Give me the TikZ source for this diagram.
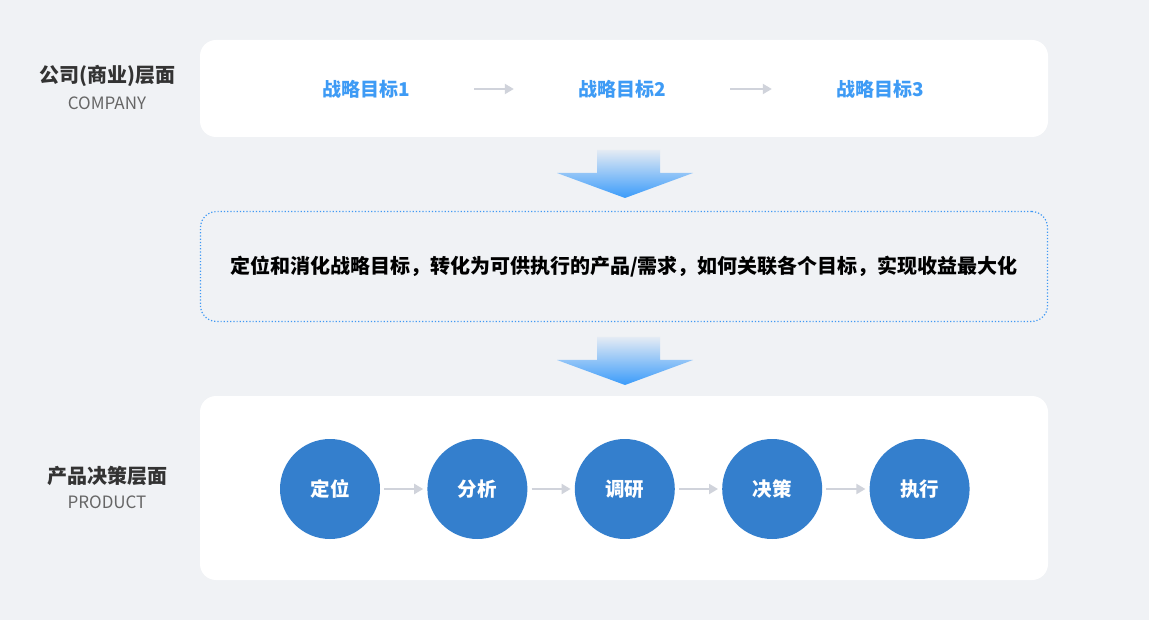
\documentclass[tikz,border=0pt]{standalone}
\usepackage{fontspec}
\setmainfont{Noto Sans CJK SC}
\usetikzlibrary{positioning,arrows.meta}
\definecolor{pagegray}{HTML}{F0F2F5}
\definecolor{goalblue}{HTML}{3E9BF5}
\definecolor{stageblue}{HTML}{347FCD}
\definecolor{flowgray}{HTML}{D0D3DB}
\definecolor{dotblue}{HTML}{3F98F4}
\definecolor{shadetop}{HTML}{E4EBF4}
\definecolor{shadebottom}{HTML}{3A9BFA}
\definecolor{layerdark}{HTML}{333333}
\definecolor{layergray}{HTML}{666666}
\tikzset{
  panel/.style={fill=white, rounded corners=16pt, inner sep=0pt, minimum width=848pt},
  goal/.style={text=goalblue, font=\bfseries\fontsize{19}{22}\selectfont, minimum width=216pt, inner sep=0pt},
  stage/.style={circle, fill=stageblue, text=white, minimum size=100pt, inner sep=0pt, font=\bfseries\fontsize{19.5}{22}\selectfont},
  flow/.style={draw=flowgray, line width=2pt, -{Triangle[length=9pt,width=10pt]}},
  layer/.style={text=layerdark, font=\bfseries\fontsize{20}{23}\selectfont},
  layersub/.style={text=layergray, font=\fontsize{17}{20}\selectfont},
  bridgebox/.style={draw=dotblue, line width=1.2pt, dash pattern=on 1.2pt off 2pt, rounded corners=16pt, minimum width=847pt, minimum height=110pt, font=\bfseries\fontsize{20}{24}\selectfont}
}
\begin{document}
\begin{tikzpicture}[x=1pt,y=-1pt]
\fill[pagegray] (0,0) rectangle (1149,620);
\useasboundingbox (0,0) rectangle (1149,620);
% company layer
\node[layer] (companyname) at (107,76) {公司(商业)层面};
\node[layersub] (companysub) at (107,103) {COMPANY};
\node[panel, minimum height=97pt] (company) at (624,88.5) {};
\node[goal] (g1) at (366,89) {战略目标1};
\node[goal] (g2) at (622,89) {战略目标2};
\node[goal] (g3) at (880,89) {战略目标3};
\draw[flow] (g1) -- (g2);
\draw[flow] (g2) -- (g3);
% down arrows
\foreach \y in {150,337}
  \shade[top color=shadetop, bottom color=shadebottom] (597,\y) -- (660,\y) -- (660,{\y+23}) -- (693,{\y+23})
  -- (625,{\y+48}) -- (557,{\y+23}) -- (597,{\y+23}) -- cycle;
% bridge
\node[bridgebox] (bridge) at (624,266.5) {定位和消化战略目标，转化为可供执行的产品/需求，如何关联各个目标，实现收益最大化};
% product layer
\node[layer] (productname) at (107,476) {产品决策层面};
\node[layersub] (productsub) at (107,502) {PRODUCT};
\node[panel, minimum height=184pt] (product) at (624,488) {};
\node[stage] (s1) at (330,489) {定位};
\node[stage, right=47pt of s1] (s2) {分析};
\node[stage, right=47pt of s2] (s3) {调研};
\node[stage, right=47pt of s3] (s4) {决策};
\node[stage, right=47pt of s4] (s5) {执行};
\foreach \a/\b in {s1/s2,s2/s3,s3/s4,s4/s5}
  \draw[flow, shorten <=4pt, shorten >=4pt] (\a) -- (\b);
\end{tikzpicture}
\end{document}
